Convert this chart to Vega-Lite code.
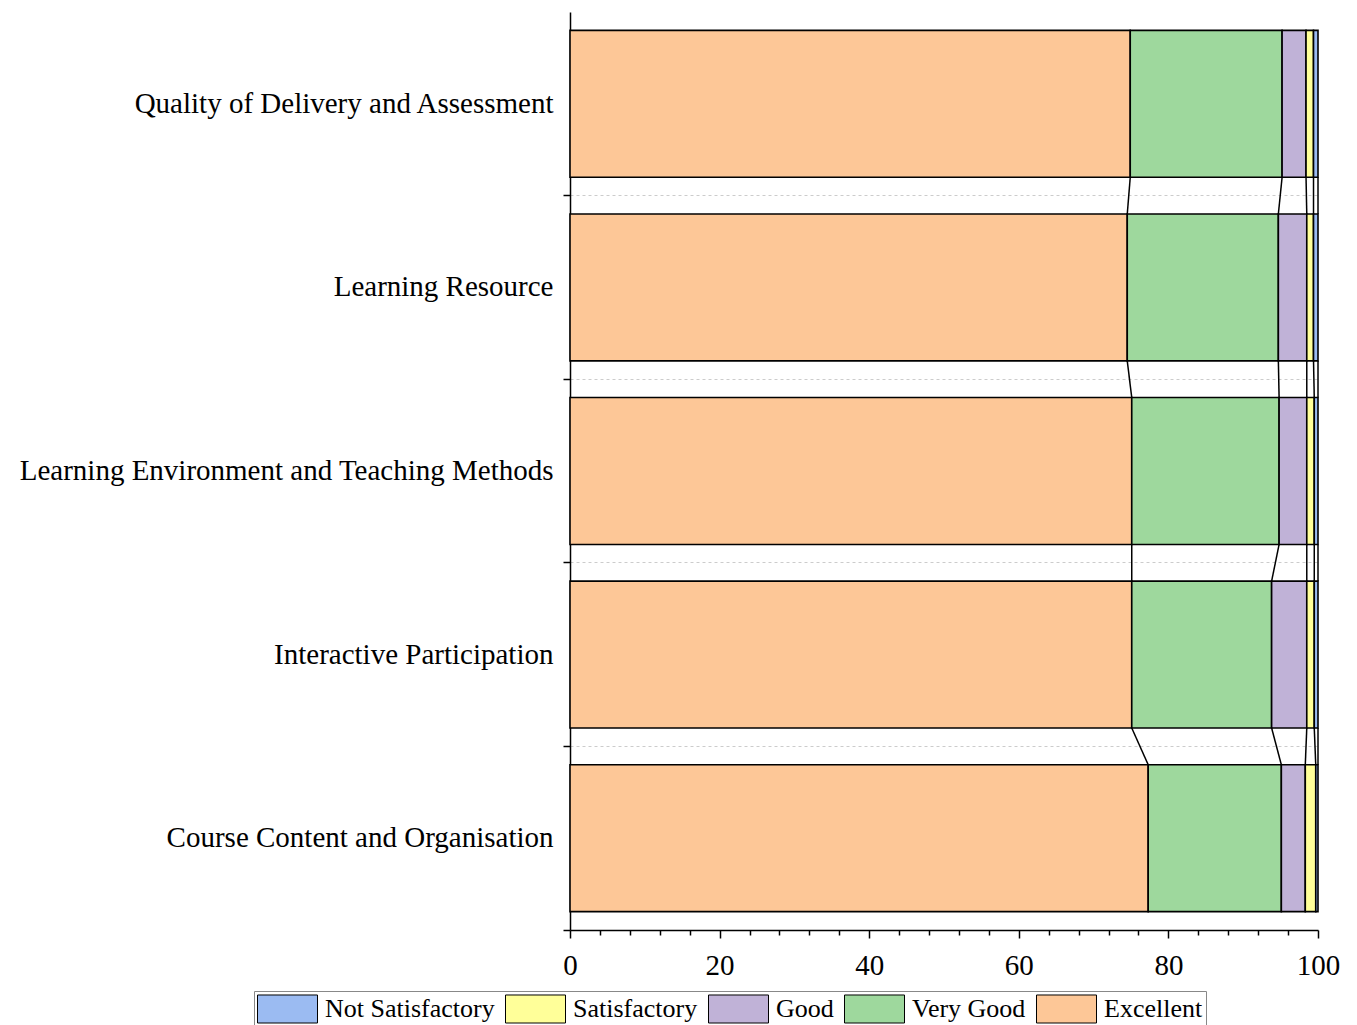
{
  "$schema": "https://vega.github.io/schema/vega-lite/v6.json",
  "width": 748,
  "height": 918,
  "autosize": "none",
  "padding": {"left": 570, "top": 12, "right": 39, "bottom": 95},
  "background": "white",
  "config": {"view": {"stroke": null}, "font": "Liberation Serif"},
  "data": {
    "values": [
      {"aspect": "Quality of Delivery and Assessment", "rating": "Excellent", "score": 5, "pct": 74.9},
      {"aspect": "Quality of Delivery and Assessment", "rating": "Very Good", "score": 4, "pct": 20.3},
      {"aspect": "Quality of Delivery and Assessment", "rating": "Good", "score": 3, "pct": 3.2},
      {"aspect": "Quality of Delivery and Assessment", "rating": "Satisfactory", "score": 2, "pct": 1.0},
      {"aspect": "Quality of Delivery and Assessment", "rating": "Not Satisfactory", "score": 1, "pct": 0.6},
      {"aspect": "Learning Resource", "rating": "Excellent", "score": 5, "pct": 74.5},
      {"aspect": "Learning Resource", "rating": "Very Good", "score": 4, "pct": 20.2},
      {"aspect": "Learning Resource", "rating": "Good", "score": 3, "pct": 3.8},
      {"aspect": "Learning Resource", "rating": "Satisfactory", "score": 2, "pct": 0.9},
      {"aspect": "Learning Resource", "rating": "Not Satisfactory", "score": 1, "pct": 0.6},
      {"aspect": "Learning Environment and Teaching Methods", "rating": "Excellent", "score": 5, "pct": 75.1},
      {"aspect": "Learning Environment and Teaching Methods", "rating": "Very Good", "score": 4, "pct": 19.7},
      {"aspect": "Learning Environment and Teaching Methods", "rating": "Good", "score": 3, "pct": 3.7},
      {"aspect": "Learning Environment and Teaching Methods", "rating": "Satisfactory", "score": 2, "pct": 1.0},
      {"aspect": "Learning Environment and Teaching Methods", "rating": "Not Satisfactory", "score": 1, "pct": 0.5},
      {"aspect": "Interactive Participation", "rating": "Excellent", "score": 5, "pct": 75.1},
      {"aspect": "Interactive Participation", "rating": "Very Good", "score": 4, "pct": 18.7},
      {"aspect": "Interactive Participation", "rating": "Good", "score": 3, "pct": 4.7},
      {"aspect": "Interactive Participation", "rating": "Satisfactory", "score": 2, "pct": 1.0},
      {"aspect": "Interactive Participation", "rating": "Not Satisfactory", "score": 1, "pct": 0.5},
      {"aspect": "Course Content and Organisation", "rating": "Excellent", "score": 5, "pct": 77.3},
      {"aspect": "Course Content and Organisation", "rating": "Very Good", "score": 4, "pct": 17.8},
      {"aspect": "Course Content and Organisation", "rating": "Good", "score": 3, "pct": 3.2},
      {"aspect": "Course Content and Organisation", "rating": "Satisfactory", "score": 2, "pct": 1.4},
      {"aspect": "Course Content and Organisation", "rating": "Not Satisfactory", "score": 1, "pct": 0.3}
    ]
  },
  "transform": [
    {"stack": "pct", "groupby": ["aspect"], "sort": [{"field": "score", "order": "descending"}], "as": ["x0", "x1"]}
  ],
  "layer": [
    {
      "mark": {"type": "bar", "stroke": "black", "strokeWidth": 1.6, "opacity": 1},
      "encoding": {
        "y": {
          "field": "aspect", "type": "nominal", "sort": "descending",
          "scale": {"type": "band", "paddingInner": 0.2, "paddingOuter": 0.1},
          "axis": {
            "title": null, "bandPosition": 1.125,
            "tickSize": 7, "tickWidth": 1.5, "tickColor": "black",
            "domainColor": "black", "domainWidth": 1.5,
            "labelFontSize": 29, "labelColor": "black", "labelPadding": 10, "labelLimit": 0,
            "labelFont": "Liberation Serif",
            "grid": true, "gridColor": "#cccccc", "gridDash": [3, 3], "gridWidth": 1
          }
        },
        "x": {
          "field": "x0", "type": "quantitative",
          "scale": {"domain": [0, 100], "nice": false},
          "axis": {
            "orient": "bottom", "title": null, "values": [0, 20, 40, 60, 80, 100],
            "tickSize": 8, "tickWidth": 1.5, "tickColor": "black",
            "domainColor": "black", "domainWidth": 1.5,
            "labelFontSize": 29, "labelColor": "black", "labelFlush": false, "labelPadding": 13,
            "labelFont": "Liberation Serif", "grid": false
          }
        },
        "x2": {"field": "x1"},
        "color": {
          "field": "rating", "type": "nominal",
          "scale": {
            "domain": ["Not Satisfactory", "Satisfactory", "Good", "Very Good", "Excellent"],
            "range": ["#9bbbf2", "#ffff99", "#c0b2d7", "#9ed89d", "#fdc797"]
          },
          "legend": {
            "title": null, "orient": "none", "direction": "horizontal", "columns": 5,
            "legendX": -316, "legendY": 979,
            "symbolType": "M-1,-0.467H1V0.467H-1Z", "symbolSize": 3600,
            "symbolStrokeColor": "black", "symbolStrokeWidth": 1, "symbolOpacity": 1,
            "clipHeight": 30,
            "labelFontSize": 26, "labelColor": "black", "labelFont": "Liberation Serif",
            "labelOffset": 7, "labelLimit": 0, "columnPadding": 10,
            "strokeColor": "#888888", "padding": 3
          }
        }
      }
    },
    {
      "transform": [
        {
          "window": [
            {"op": "lead", "field": "x1", "as": "x1n"},
            {"op": "lead", "field": "aspect", "as": "aspectNext"}
          ],
          "groupby": ["rating"],
          "sort": [{"field": "aspect", "order": "descending"}]
        },
        {"filter": "datum.aspectNext != null"}
      ],
      "mark": {"type": "rule", "color": "black", "strokeWidth": 1.5},
      "encoding": {
        "y": {"field": "aspect", "type": "nominal", "sort": "descending", "bandPosition": 1},
        "y2": {"field": "aspectNext", "bandPosition": 0},
        "x": {
          "field": "x1", "type": "quantitative",
          "axis": {
            "orient": "bottom", "title": null,
            "values": [4, 8, 12, 16, 24, 28, 32, 36, 44, 48, 52, 56, 64, 68, 72, 76, 84, 88, 92, 96],
            "tickSize": 5, "tickWidth": 1.5, "tickColor": "black",
            "labels": false, "domain": false, "grid": false
          }
        },
        "x2": {"field": "x1n"}
      }
    }
  ],
  "resolve": {"axis": {"x": "independent"}}
}
